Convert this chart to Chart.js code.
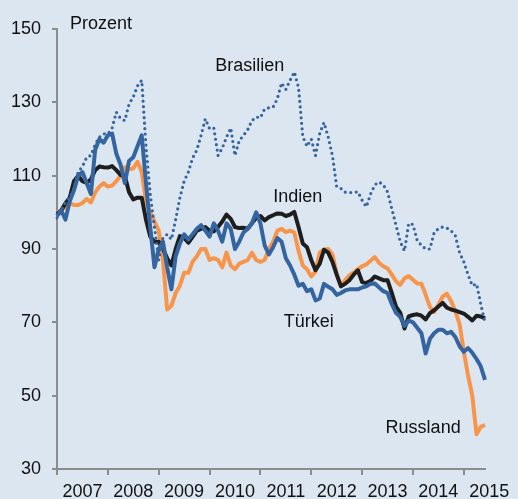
<!DOCTYPE html>
<html>
<head>
<meta charset="utf-8">
<script src="https://cdn.jsdelivr.net/npm/chart.js@4.4.1/dist/chart.umd.min.js"></script>
<style>
  html, body { margin: 0; padding: 0; background: #dce6f1; }
  #wrap { width: 518px; height: 499px; }
</style>
</head>
<body>
<div id="wrap"><canvas id="chart" width="518" height="499"></canvas></div>
<script>
// monthly points, Jan 2007 - Jun 2015
const months = [
  '2007-01','2007-02','2007-03','2007-04','2007-05','2007-06','2007-07','2007-08','2007-09','2007-10','2007-11','2007-12',
  '2008-01','2008-02','2008-03','2008-04','2008-05','2008-06','2008-07','2008-08','2008-09','2008-10','2008-11','2008-12',
  '2009-01','2009-02','2009-03','2009-04','2009-05','2009-06','2009-07','2009-08','2009-09','2009-10','2009-11','2009-12',
  '2010-01','2010-02','2010-03','2010-04','2010-05','2010-06','2010-07','2010-08','2010-09','2010-10','2010-11','2010-12',
  '2011-01','2011-02','2011-03','2011-04','2011-05','2011-06','2011-07','2011-08','2011-09','2011-10','2011-11','2011-12',
  '2012-01','2012-02','2012-03','2012-04','2012-05','2012-06','2012-07','2012-08','2012-09','2012-10','2012-11','2012-12',
  '2013-01','2013-02','2013-03','2013-04','2013-05','2013-06','2013-07','2013-08','2013-09','2013-10','2013-11','2013-12',
  '2014-01','2014-02','2014-03','2014-04','2014-05','2014-06','2014-07','2014-08','2014-09','2014-10','2014-11','2014-12',
  '2015-01','2015-02','2015-03','2015-04','2015-05','2015-06'
];

const brasilien = [
  98.5,100.5,102.6,104.2,106.5,111,112.5,115,115.5,118.5,120.5,121.4,
  121.4,123,127.3,125.6,125,129.5,131.5,134.5,136,118,105,96,
  87,93,94,92.6,98,104,108.5,111,114.8,117,121,125.5,
  122.8,123,115.5,117.5,120.5,123,115.5,119.5,121,122.5,125,126,
  125.8,128.2,128.5,128.7,131,135.3,133.5,136,138.3,134,120.7,118,
  120,115.5,121.5,124.5,120.5,115.5,107,106.5,105.5,105.4,105.4,105.6,
  103.3,101.5,105,107.5,108.3,107.5,105.6,101,96.5,92,89.5,97,
  96.7,92.3,91,90,90,94.5,95.5,96,95.7,95,93.6,89,
  86.5,83,80,80.5,75,70
];

const indien = [
  99.5,100.5,102.5,104,108.5,110,108.5,108,109,111.5,112.5,112.3,
  112.2,112.6,111.5,110.2,110,105.5,103.5,104,104,98,93.4,92,
  92,90,87.5,85.5,90,93.5,93,91.7,93.3,95,95.5,96,
  95,94.8,96,97.5,99.4,98.2,96,95.7,95.8,95.5,97,98.5,
  99,97.8,98.7,99.2,99.7,99.6,99,99.4,100.1,96,91.5,90.5,
  87,84.2,86,89.8,89,86.5,83,79.8,80.5,81.5,83,84.2,
  81,80.7,81.3,82.5,82,81.5,81.5,78,74.3,72.6,68.3,71.6,
  72,72.2,71.8,70.8,72.5,73.3,74.3,75.3,74,73.5,73.2,72.8,
  72.4,71.5,70.5,71.8,71.6,71.1
];

const russland = [
  100,100.5,101.5,102.5,102,102,102.5,103.7,102.7,105.4,107,108,
  107,107.3,108.5,110,112.3,111.7,112,113.8,111,103,100,97.5,
  95,87,73.5,74.5,78,80,83.5,83.5,86.5,88,90,90,
  87,87.5,87,85,89,85.5,84.5,86,86.5,87,89,87,
  86.5,87,90,92,95,95.5,94.6,95,94.5,89.5,85.5,84.5,
  82.5,83.8,89,89.8,90,88.5,83.2,80,81.5,82.8,83.6,84.5,
  85.3,85.8,86.8,87.8,86.2,85.3,84.7,83,81.2,80.2,82,82.6,
  81.6,80.6,80.5,77.5,74.2,72.8,74.8,77,77.8,75.8,73,69.5,
  62,55.5,50,39.5,41.5,42
];

const tuerkei = [
  99,100.5,98,103,106,110,111,108,105,117,120,119,
  121,121.5,116,113,108,114,115,118,121,108,96,85,
  90,92,85,79,88,91.5,94,92.6,94,95.5,96.5,95,
  93.4,97,95,92,97,95.5,90,92,94.5,95.5,97,100,
  97,91,88.5,90.5,93,92,87.5,85.5,83,80,80.5,78.5,
  79,76,76.5,80.5,79.7,79,77.5,78,78.7,79,79,79,
  79.5,79.8,80.5,80.6,79.5,78.5,78,75,72.6,71.5,69,70.5,
  70,68.5,67,61.5,65.5,67,68,68,67,67.4,66,63.5,
  62,63,61.7,60,58,54.3
];

const unitLabel = 'Prozent';

// where the series names sit (month index, value)
const seriesNotes = [
  { text: 'Brasilien', x: 45.5, y: 139.8 },
  { text: 'Indien', x: 56.8, y: 104.3 },
  { text: 'Türkei', x: 59.4, y: 70.2 },
  { text: 'Russland', x: 86.4, y: 41.2 }
];

const blue = '#3465a0';
const orange = '#f7964a';
const black = '#1e1e1e';
const axisGrey = '#8c8c8c';
const textColor = '#111111';
const fontFamily = "'Liberation Sans', Arial, sans-serif";

Chart.defaults.font.family = fontFamily;
Chart.defaults.font.size = 18;
Chart.defaults.color = textColor;

const notesPlugin = {
  id: 'notes',
  afterDatasetsDraw(chart) {
    const { ctx, chartArea } = chart;
    const xs = chart.scales.x, ys = chart.scales.y;
    ctx.save();
    ctx.font = '18px ' + fontFamily;
    ctx.fillStyle = textColor;
    ctx.textBaseline = 'middle';
    ctx.textAlign = 'left';
    ctx.fillText(unitLabel, chartArea.left + 13, chartArea.top - 5);
    ctx.textAlign = 'center';
    seriesNotes.forEach(n => {
      ctx.fillText(n.text, xs.getPixelForValue(n.x), ys.getPixelForValue(n.y));
    });
    ctx.restore();
  }
};

const solid = (label, data, color, order) => ({
  label, data, order,
  borderColor: color,
  borderWidth: 4,
  borderJoinStyle: 'round',
  pointRadius: 0,
  tension: 0,
  fill: false
});

const ctx = document.getElementById('chart').getContext('2d');
new Chart(ctx, {
  type: 'line',
  data: {
    labels: months,
    datasets: [
      {
        label: 'Brasilien',
        data: brasilien,
        order: 0,
        borderColor: blue,
        borderWidth: 3.2,
        borderDash: [0, 5.5],
        borderCapStyle: 'round',
        borderJoinStyle: 'round',
        pointRadius: 0,
        tension: 0,
        fill: false
      },
      solid('Türkei', tuerkei, blue, 1),
      solid('Indien', indien, black, 2),
      solid('Russland', russland, orange, 3)
    ]
  },
  options: {
    responsive: false,
    animation: false,
    devicePixelRatio: 1,
    layout: { padding: { top: 29, right: 33, bottom: 0, left: 0 } },
    plugins: { legend: { display: false }, tooltip: { enabled: false } },
    scales: {
      x: {
        type: 'category',
        offset: false,
        grid: { drawOnChartArea: false, tickLength: 6, color: axisGrey, lineWidth: 2, offset: false },
        border: { color: axisGrey, width: 2 },
        ticks: {
          autoSkip: false,
          maxRotation: 0,
          labelOffset: 25.4,
          padding: 6,
          callback: function (v) { return this.getLabelForValue(v).slice(0, 4); }
        },
        afterBuildTicks: s => { s.ticks = s.ticks.filter(t => t.value % 12 === 0); },
        afterFit: s => { s.height = 30; }
      },
      y: {
        min: 30,
        max: 150,
        grid: { drawOnChartArea: false, tickLength: 5, color: axisGrey, lineWidth: 2 },
        border: { color: axisGrey, width: 2 },
        ticks: { stepSize: 20, padding: 11 },
        afterFit: s => { s.width = 57; }
      }
    }
  },
  plugins: [notesPlugin]
});
</script>
</body>
</html>
